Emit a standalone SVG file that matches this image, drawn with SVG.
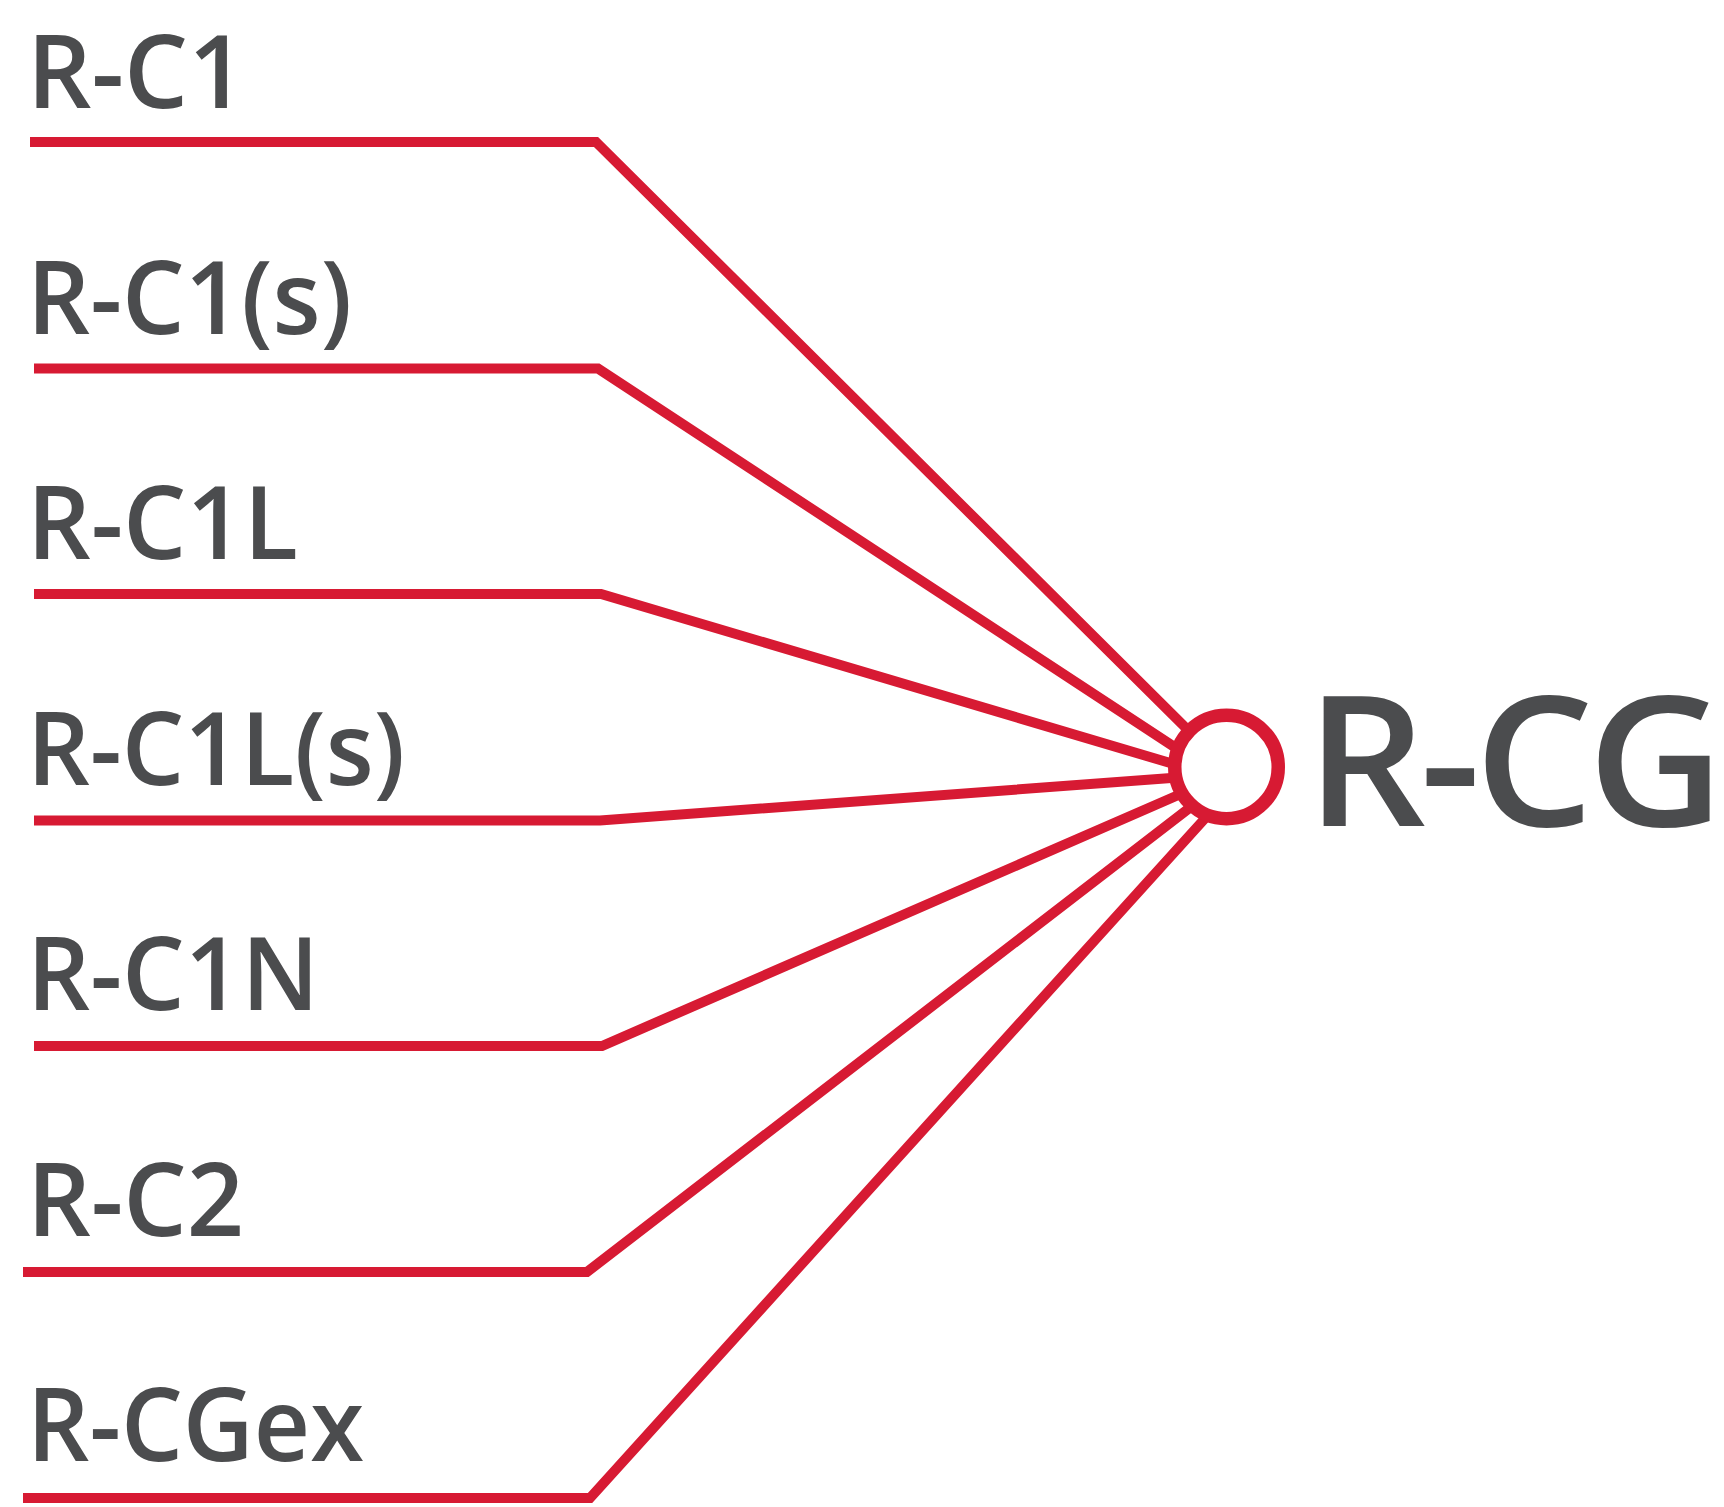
<svg xmlns="http://www.w3.org/2000/svg" width="1724" height="1507" viewBox="0 0 1724 1507">
<style>
.lbl{font-family:"Open Sans","Liberation Sans",sans-serif;font-weight:600;fill:#4B4C4E;font-size:102px}
.big{font-size:182px;letter-spacing:-6px}
.conn{fill:none;stroke:#D71A33;stroke-width:10;stroke-linejoin:miter;stroke-linecap:butt}
</style>
<rect width="1724" height="1507" fill="#FFFFFF"/>
<g id="connectors" class="conn">
<polyline points="30,142 596,142 1190,732"/>
<polyline points="34,368.5 598,368.5 1179,750"/>
<polyline points="34,594 601,594 1177,765"/>
<polyline points="34,820.5 600,820.5 1178,777.5"/>
<polyline points="34,1046 602,1046 1183,793"/>
<polyline points="23,1272 587,1272 1194,804.5"/>
<polyline points="23,1498 590,1498 1209,814"/>
</g>
<g id="node-rc1"><text class="lbl" x="27" y="108" textLength="219" lengthAdjust="spacingAndGlyphs">R-C1</text></g>
<g id="node-rc1s"><text class="lbl" x="27" y="333.5" textLength="325" lengthAdjust="spacingAndGlyphs">R-C1(s)</text></g>
<g id="node-rc1l"><text class="lbl" x="27" y="559" textLength="271" lengthAdjust="spacingAndGlyphs">R-C1L</text></g>
<g id="node-rc1ls"><text class="lbl" x="27" y="784.5" textLength="378" lengthAdjust="spacingAndGlyphs">R-C1L(s)</text></g>
<g id="node-rc1n"><text class="lbl" x="27" y="1010" textLength="292" lengthAdjust="spacingAndGlyphs">R-C1N</text></g>
<g id="node-rc2"><text class="lbl" x="27" y="1235.5" textLength="217" lengthAdjust="spacingAndGlyphs">R-C2</text></g>
<g id="node-rcgex"><text class="lbl" x="27" y="1461" textLength="337" lengthAdjust="spacingAndGlyphs">R-CGex</text></g>
<g id="node-rcg">
<circle cx="1226.5" cy="767" r="51.75" fill="#FFFFFF" stroke="#D71A33" stroke-width="13.5"/>
<text class="lbl big" x="1306" y="825.5" textLength="412" lengthAdjust="spacingAndGlyphs">R-CG</text>
</g>
</svg>
